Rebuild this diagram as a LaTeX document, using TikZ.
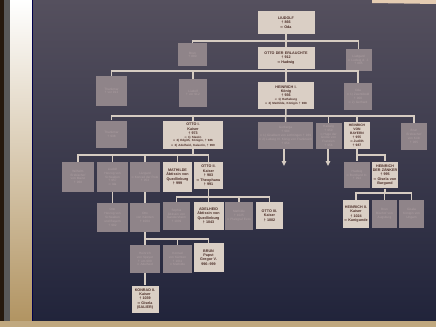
\documentclass[tikz,border=0pt]{standalone}
\usepackage{fontspec}
\setmainfont{Liberation Sans}
\usetikzlibrary{arrows.meta}
\definecolor{tafeloben}{HTML}{55505E}
\definecolor{tafelmitte}{HTML}{242E50}
\definecolor{tafelunten}{HTML}{20233A}
\definecolor{hell}{HTML}{DACFC5}
\definecolor{grau}{HTML}{8F8489}
\definecolor{schrift}{HTML}{4A2C26}
\definecolor{blass}{HTML}{AC9EA1}
\definecolor{linienfarbe}{HTML}{D6CCC2}
\definecolor{silber}{HTML}{D4D2D4}
\definecolor{messing}{HTML}{B0925F}
\tikzset{
  haupt/.style={fill=hell, text=schrift, font=\bfseries\fontsize{10.5}{12.5}\selectfont, align=center, inner sep=1pt},
  neben/.style={fill=grau, text=blass, font=\fontsize{9}{11}\selectfont, align=center, inner sep=1pt},
  schmal/.style={minimum width=2.9cm, text width=2.7cm, minimum height=2.8cm},
  eng/.style={minimum width=2.6cm, text width=2.5cm, minimum height=2.7cm},
  breit/.style={minimum width=5.7cm, text width=5.5cm, minimum height=2.5cm},
  linie/.style={draw=linienfarbe, line width=1.5mm},
  pfeil/.style={linie, -{Triangle[width=4.5mm,length=5mm]}},
}
\begin{document}
\begin{tikzpicture}[x=0.1cm,y=-0.1cm]
\useasboundingbox (0,0) rectangle (436,327);
\shade[top color=tafeloben, middle color=tafelmitte, bottom color=tafelunten] (0,0) rectangle (436,327);
\fill[black!80!brown] (0,0) rectangle (4,327);
\fill[gray!70!black] (4,0) rectangle (10,327);
\shade[top color=white, middle color=silber, bottom color=messing] (10,0) rectangle (32,327);
\fill[black!70!blue] (32,0) rectangle (33,327);
\fill[messing!80!white] (0,321) rectangle (436,327);
\fill[brown!40!white] (372,0) -- (436,0) -- (436,4) -- (372,3) -- cycle;

\node[haupt, breit, minimum height=2.3cm] (liudolf) at (286,22.5) {LIUDOLF\\ † 866\\ ∞ Oda};
\node[neben, schmal, minimum height=2.3cm] (brun1) at (192.5,55) {Brun\\ † 880};
\node[haupt, breit, minimum height=2.2cm] (ottoerl) at (286,58) {OTTO DER ERLAUCHTE\\ † 912\\ ∞ Hadwig};
\node[neben, eng, minimum height=2.2cm] (liudgard) at (358.5,60) {Liudgard\\ ∞ Ludwig d. J.\\ † 885};

\node[neben, schmal, minimum width=3.1cm, minimum height=3cm] (thankmar1) at (111.5,91) {Thankmar\\ † vor 912};
\node[neben, schmal, minimum width=2.8cm] (liudolf2) at (193,93) {Liudolf\\ † vor 912};
\node[haupt, breit, minimum width=5.6cm, minimum height=2.7cm] (heinrich1) at (286,95.5) {HEINRICH I.\\ König\\ † 936\\ {\fontsize{8.5}{10.5}\selectfont ∞ 1) Hatheburg\\ ∞ 2) Mathilde, Königin † 968}};
\node[neben, schmal, minimum width=2.8cm, minimum height=2.7cm] (oda) at (358,96.5) {Oda\\ ∞ 1) Zwentibold\\ † 900\\ ∞ 2) Gerhard};

\node[neben, schmal, minimum width=3.1cm] (thankmar2) at (111.5,134.5) {Thankmar\\ † 938};
\node[haupt, breit, minimum width=6cm, text width=5.8cm, minimum height=2.8cm] (otto1) at (193,135) {OTTO I.\\ Kaiser\\ † 973\\ {\fontsize{8.5}{10}\selectfont ∞ 1) Slawin\\ ∞ 2) Edgith, Königin, † 946\\ ∞ 3) Adelheid, Kaiserin, † 999}};
\node[neben, breit, minimum width=5.5cm, minimum height=2.7cm] (gerberga) at (285.5,135.5) {Gerberga\\ † 984\\ ∞ 1) Giselbert von Lothringen † 939\\ ∞ 2) Ludwig IV. König von Frankreich\\ † 954};
\node[neben, eng, minimum width=2.6cm, minimum height=2.6cm] (hadwig1) at (328.5,136) {Hadwig\\ † 959\\ ∞ Hugo der Große von Franzien\\ † 956};
\node[haupt, eng, minimum height=2.7cm, font=\bfseries\fontsize{9.5}{11}\selectfont] (hzbayern) at (357,135.5) {HEINRICH\\ VON\\ BAYERN\\ † 955\\ ∞ Judith\\ † 987};
\node[neben, eng, minimum height=2.7cm] (brun2) at (414,136.5) {Brun\\ Erzbischof von Köln\\ † 965};

\node[neben, schmal, minimum width=3.2cm, minimum height=3cm] (wilhelm) at (78,177) {Wilhelm\\ Erzbischof von Mainz\\ † 968};
\node[neben, schmal, minimum width=3.1cm, minimum height=3cm] (liudolf3) at (112.5,177) {Liudolf\\ Herzog von Schwaben\\ † 957\\ ∞ Ida};
\node[neben, schmal, minimum width=3cm, minimum height=3cm] (liutgard) at (145,177) {Liutgard\\ ∞ Konrad der Rote\\ † 953};
\node[haupt, schmal, minimum height=3cm] (mathilde1) at (177.5,177) {MATHILDE\\ Äbtissin von Quedlinburg\\ † 999};
\node[haupt, schmal, minimum height=2.7cm] (otto2) at (208.5,175.5) {OTTO II.\\ Kaiser\\ † 983\\ ∞ Theophanu\\ † 991};
\node[neben, eng] (hadwig2) at (357,175) {Hadwig\\ ∞ Burchard III.\\ † 994};
\node[haupt, eng] (zaenker) at (385,175) {HEINRICH\\ DER ZÄNKER\\ † 995\\ ∞ Gisela von Burgund};

\node[neben, schmal, minimum width=3.1cm, minimum height=2.9cm] (ottoschw) at (112.5,217.5) {Otto\\ Herzog von Schwaben und Bayern\\ † 982};
\node[neben, schmal, minimum width=3cm, minimum height=2.9cm] (ottokaer) at (145,217.5) {Otto\\ von Kärnten\\ † 1004};
\node[neben, eng, minimum width=2.7cm, minimum height=2.8cm] (sophia) at (176.5,216) {Sophia\\ Äbtissin von Gandersheim\\ † 1039};
\node[haupt, schmal, minimum width=3cm] (adelheid) at (208.5,216) {ADELHEID\\ Äbtissin von Quedlinburg\\ † 1043};
\node[neben, schmal, minimum width=2.8cm] (mathilde2) at (239,216) {Mathilde\\ † 1025\\ ∞ Pfalzgraf Ezzo};
\node[haupt, eng, minimum width=2.7cm] (otto3) at (269.5,215.5) {OTTO III.\\ Kaiser\\ † 1002};
\node[haupt, eng, minimum height=2.8cm] (heinrich2) at (356,214) {HEINRICH II.\\ Kaiser\\ † 1024\\ ∞ Kunigunde};
\node[neben, eng, minimum width=2.5cm, minimum height=2.8cm] (brun3) at (384.5,214) {Brun\\ Bischof von Augsburg};
\node[neben, eng, minimum width=2.5cm, minimum height=2.8cm] (gisela) at (411.5,214) {Gisela\\ Königin von Ungarn};

\node[neben, schmal, minimum width=3cm] (hspeyer) at (145,259) {Heinrich\\ von Speyer\\ † um 990\\ ∞ Adelheid};
\node[neben, schmal] (konradk) at (177.5,259) {Konrad\\ von Kärnten\\ † 1011\\ ∞ Mathilde};
\node[haupt, schmal, minimum width=3cm, minimum height=2.9cm] (brunpapst) at (208.5,257.5) {BRUN\\ Papst\\ Gregor V.\\ 996–999};
\node[haupt, eng, minimum width=2.7cm] (konrad2) at (145,299) {KONRAD II.\\ Kaiser\\ † 1039\\ ∞ Gisela\\ (SALIER)};

\coordinate (j1) at (286,41);
\coordinate (j2) at (286,71);
\coordinate (j3) at (286,116);
\coordinate (j4) at (193,155);
\coordinate (j5) at (357,155);
\coordinate (j6) at (208.5,197);
\coordinate (j7) at (385,193);
\coordinate (j8) at (145,239);
\coordinate (pfeil1) at (284,166);
\coordinate (pfeil2) at (328,166);

\draw[linie] (liudolf) -- (ottoerl);
\draw[linie] (brun1.north) |- (j1) -| (liudgard.north);
\draw[linie] (ottoerl) -- (heinrich1);
\draw[linie] (thankmar1.north) |- (j2) -| (oda.north);
\draw[linie] (liudolf2.north) -- (liudolf2.north |- j2);
\draw[linie] (heinrich1) -- (gerberga);
\draw[linie] (thankmar2.north) |- (j3) -| (brun2.north);
\foreach \k in {otto1, hadwig1, hzbayern}
  \draw[linie] (\k.north) -- (\k.north |- j3);
\draw[pfeil] (pfeil1 |- gerberga.south) -- (pfeil1);
\draw[pfeil] (pfeil2 |- hadwig1.south) -- (pfeil2);
\draw[linie] (otto1.south) -- (j4);
\draw[linie] (wilhelm.north) |- (j4) -| (otto2.north);
\foreach \k in {liudolf3, liutgard, mathilde1}
  \draw[linie] (\k.north) -- (\k.north |- j4);
\draw[linie] (hzbayern) -- (hadwig2);
\draw[linie] (j5) -| (zaenker.north);
\draw[linie] (liudolf3) -- (ottoschw);
\draw[linie] (liutgard) -- (ottokaer);
\draw[linie] (otto2) -- (adelheid);
\draw[linie] (sophia.north) |- (j6) -| (otto3.north);
\draw[linie] (mathilde2.north) -- (mathilde2.north |- j6);
\draw[linie] (zaenker.south) -- (j7);
\draw[linie] (heinrich2.north) |- (j7) -| (gisela.north);
\draw[linie] (brun3.north) -- (brun3.north |- j7);
\draw[linie] (ottokaer) -- (hspeyer);
\draw[linie] (j8) -| (brunpapst.north);
\draw[linie] (konradk.north) -- (konradk.north |- j8);
\draw[linie] (hspeyer) -- (konrad2);
\end{tikzpicture}
\end{document}
